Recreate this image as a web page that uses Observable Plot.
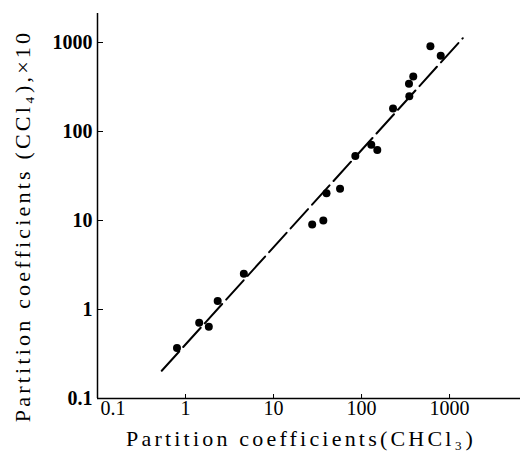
<!DOCTYPE html>
<html>
<head>
<meta charset="utf-8">
<script src="https://cdn.jsdelivr.net/npm/d3@7"></script>
<script src="https://cdn.jsdelivr.net/npm/@observablehq/plot@0.6"></script>
<style>
  html, body { margin: 0; padding: 0; background: #fff; }
</style>
</head>
<body>
<div id="chart"></div>
<script>
// Partition coefficients in CHCl3 (x) vs CCl4 ×10 (y)
const chcl3 = [0.80, 1.43, 1.84, 2.32, 4.6, 27.5, 36.8, 40, 57, 85, 129, 151, 228, 349, 346, 387, 606, 794];
const ccl4  = [0.37, 0.71, 0.64, 1.25, 2.52, 9.0, 10, 20.3, 22.7, 53, 71, 62, 181, 249, 344, 415, 908, 709];
// regression line end points
const lineX = [0.537, 1414];
const lineY = [0.205, 1118];
const xTicks = [1, 10, 100, 1000];
const yTicks = [0.1, 1, 10, 100, 1000];
const xTitle = "Partition coefficients(CHCl\u2083)";
const yTitle = "Partition coefficients (CCl\u2084),\u00d710";

const points = chcl3.map((x, i) => ({x, y: ccl4[i]}));
const fit = lineX.map((x, i) => ({x, y: lineY[i]}));

const chart = Plot.plot({
  width: 520,
  height: 455,
  marginLeft: 97,
  marginRight: 0,
  marginTop: 13,
  marginBottom: 57,
  style: {fontFamily: "'Liberation Serif', serif", fontSize: "18px", color: "#000", background: "#fff"},
  x: {type: "log", domain: [0.1, 6400]},
  y: {type: "log", domain: [0.1, 2118]},
  marks: [
    Plot.ruleX([0.1], {stroke: "#000", strokeWidth: 1.5}),
    Plot.ruleY([0.1], {stroke: "#000", strokeWidth: 1.5}),
    Plot.axisY({ticks: yTicks, tickFormat: d => String(d), tickSize: -6, tickPadding: 11,
      fontSize: 20, fontWeight: "bold", label: null}),
    Plot.axisX({ticks: xTicks, tickFormat: d => String(d), tickSize: -4, tickPadding: 6,
      fontSize: 20, label: null}),
    Plot.axisX({ticks: [0.1], tickFormat: d => String(d), tickSize: 0, tickPadding: 2,
      fontSize: 20, textAnchor: "start", dx: 3, label: null}),
    Plot.text([yTitle], {
      frameAnchor: "left", textAnchor: "middle", dx: -75, dy: 20, rotate: -90,
      fontSize: 22, text: d => d}),
    Plot.text([xTitle], {
      frameAnchor: "bottom", textAnchor: "middle", dx: -8, dy: 47,
      fontSize: 22, text: d => d}),
    Plot.line(fit, {x: "x", y: "y", stroke: "#000", strokeWidth: 2, strokeDasharray: "26,6"}),
    Plot.dot(points, {x: "x", y: "y", r: 4, fill: "#000", stroke: "none"})
  ]
});
d3.select(chart).selectAll("text")
  .filter(function() { return this.textContent === xTitle || this.textContent === yTitle; })
  .style("letter-spacing", "3.2px");
document.getElementById("chart").appendChild(chart);
</script>
</body>
</html>
